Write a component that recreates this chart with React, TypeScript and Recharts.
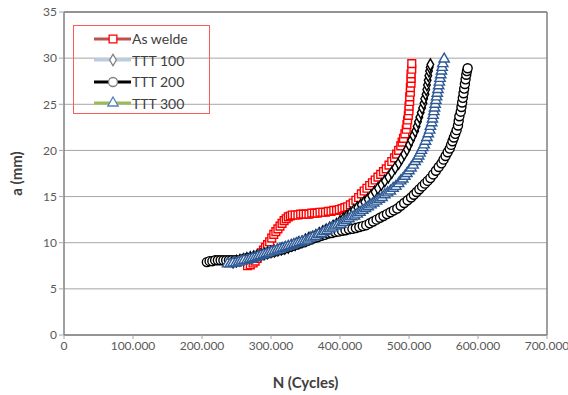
import React from 'react';
import {
  ScatterChart, Scatter, XAxis, YAxis, CartesianGrid, Legend, ReferenceLine, Symbols,
} from 'recharts';

// [N in thousands of cycles, a in mm]
const asWelde: [number, number][] = [
  [266, 7.5], [270, 7.6], [274, 7.8], [277, 8.0], [280, 8.3], [283, 8.6], [286, 8.9], [289, 9.2], [292, 9.5], [295, 9.8],
  [298, 10.1], [301, 10.5], [304, 10.9], [307, 11.2], [310, 11.5], [313, 11.8], [316, 12.1], [319, 12.4], [322, 12.6], [325, 12.8],
  [328, 12.9], [331, 13.0], [335, 13.0], [339, 13.0], [343, 13.1], [347, 13.1], [351, 13.1], [355, 13.1], [359, 13.2], [363, 13.2],
  [367, 13.2], [371, 13.3], [375, 13.3], [379, 13.3], [383, 13.4], [387, 13.4], [391, 13.5], [395, 13.5], [399, 13.6], [403, 13.7],
  [407, 13.8], [411, 13.9], [415, 14.1], [419, 14.3], [423, 14.6], [427, 14.9], [431, 15.3], [435, 15.6], [439, 15.9], [443, 16.2],
  [447, 16.5], [451, 16.8], [455, 17.1], [459, 17.4], [463, 17.7], [467, 18.0], [471, 18.4], [475, 18.8], [479, 19.2], [482, 19.6],
  [485, 20.0], [488, 20.5], [490, 20.9], [492, 21.3], [494, 21.8], [496, 22.3], [497, 22.8], [498, 23.3], [499, 23.8], [500, 24.3],
  [500, 24.8], [501, 25.3], [501, 25.8], [502, 26.3], [502, 26.8], [503, 27.3], [503, 27.8], [503, 28.3], [504, 28.8], [504, 29.4],
];

const ttt100: [number, number][] = [
  [245, 7.9], [250, 8.0], [255, 8.1], [260, 8.2], [265, 8.3], [270, 8.4], [275, 8.5], [280, 8.6], [285, 8.7], [290, 8.8],
  [295, 8.9], [300, 9.0], [305, 9.1], [310, 9.2], [315, 9.3], [320, 9.4], [325, 9.5], [330, 9.7], [335, 9.8], [340, 10.0],
  [345, 10.1], [350, 10.3], [355, 10.5], [360, 10.6], [365, 10.8], [370, 11.0], [375, 11.2], [380, 11.4], [385, 11.6], [390, 11.8],
  [395, 12.0], [400, 12.3], [405, 12.6], [410, 12.9], [415, 13.2], [420, 13.5], [425, 13.8], [430, 14.1], [435, 14.4], [440, 14.7],
  [445, 15.1], [450, 15.5], [455, 15.9], [460, 16.3], [465, 16.7], [470, 17.1], [475, 17.6], [480, 18.1], [485, 18.6], [489, 19.1],
  [493, 19.6], [497, 20.1], [500, 20.6], [503, 21.1], [506, 21.6], [509, 22.1], [511, 22.6], [513, 23.1], [515, 23.6], [517, 24.1],
  [519, 24.6], [521, 25.1], [522, 25.6], [524, 26.1], [525, 26.6], [526, 27.1], [527, 27.6], [528, 28.1], [529, 28.6], [530, 29.0],
  [531, 29.3],
];

const ttt200: [number, number][] = [
  [207, 7.9], [211, 8.0], [215, 8.0], [219, 8.1], [223, 8.1], [227, 8.1], [231, 8.1], [235, 8.1], [239, 8.1], [243, 8.1],
  [248, 8.1], [253, 8.1], [258, 8.2], [263, 8.3], [268, 8.35], [273, 8.4], [278, 8.5], [283, 8.6], [288, 8.7], [293, 8.8],
  [298, 8.9], [303, 9.0], [308, 9.1], [313, 9.2], [318, 9.3], [323, 9.45], [328, 9.55], [333, 9.7], [338, 9.8], [343, 9.95],
  [348, 10.05], [353, 10.2], [358, 10.35], [363, 10.5], [368, 10.6], [373, 10.75], [378, 10.85], [383, 11.0], [388, 11.05], [393, 11.15],
  [398, 11.2], [403, 11.3], [408, 11.35], [413, 11.45], [418, 11.5], [423, 11.6], [428, 11.7], [433, 11.8], [438, 11.9], [443, 12.1],
  [448, 12.3], [453, 12.5], [458, 12.7], [463, 12.9], [468, 13.1], [473, 13.3], [478, 13.5], [483, 13.7], [488, 14.0], [493, 14.3],
  [498, 14.6], [503, 14.9], [507, 15.2], [511, 15.5], [515, 15.8], [519, 16.1], [523, 16.4], [527, 16.7], [531, 17.0], [535, 17.4],
  [539, 17.8], [543, 18.2], [547, 18.6], [550, 19.0], [553, 19.4], [556, 19.8], [559, 20.2], [561, 20.6], [563, 21.0], [565, 21.4],
  [567, 21.8], [569, 22.2], [571, 22.7], [572, 23.2], [573, 23.7], [575, 24.2], [576, 24.7], [577, 25.2], [578, 25.7], [579, 26.2],
  [580, 26.7], [581, 27.2], [582, 27.7], [583, 28.2], [584, 28.6], [585, 28.9],
];

const ttt300: [number, number][] = [
  [237, 7.7], [241, 7.7], [245, 7.8], [249, 7.8], [253, 7.9], [257, 8.0], [261, 8.1], [265, 8.1], [269, 8.2], [273, 8.3],
  [277, 8.4], [281, 8.5], [285, 8.6], [289, 8.7], [293, 8.8], [297, 8.9], [301, 9.0], [305, 9.1], [309, 9.2], [313, 9.3],
  [317, 9.4], [321, 9.5], [325, 9.6], [329, 9.7], [333, 9.8], [337, 9.9], [341, 10.0], [345, 10.1], [349, 10.2], [353, 10.3],
  [357, 10.5], [361, 10.6], [365, 10.7], [369, 10.9], [373, 11.0], [377, 11.2], [381, 11.3], [385, 11.5], [389, 11.6], [393, 11.8],
  [397, 11.9], [401, 12.0], [405, 12.2], [409, 12.4], [413, 12.6], [417, 12.8], [421, 12.9], [425, 13.1], [429, 13.3], [433, 13.5],
  [437, 13.7], [441, 13.9], [445, 14.1], [449, 14.3], [453, 14.5], [457, 14.7], [461, 14.9], [465, 15.2], [469, 15.4], [473, 15.6],
  [477, 15.9], [481, 16.1], [485, 16.4], [488, 16.7], [491, 16.9], [494, 17.2], [497, 17.5], [500, 17.8], [503, 18.1], [506, 18.4],
  [509, 18.8], [512, 19.1], [514, 19.4], [516, 19.7], [518, 20.0], [520, 20.3], [522, 20.6], [524, 21.0], [526, 21.4], [528, 21.8],
  [530, 22.2], [531, 22.6], [533, 23.0], [534, 23.4], [535, 23.8], [536, 24.2], [537, 24.6], [538, 25.0], [539, 25.4], [540, 25.8],
  [541, 26.2], [542, 26.6], [543, 27.0], [544, 27.4], [545, 27.8], [546, 28.2], [547, 28.6], [548, 29.0], [549, 29.4], [551, 29.9],
];

const seriesNames = ['As welde', 'TTT 100', 'TTT 200', 'TTT 300'];
const xTicks = [0, 100000, 200000, 300000, 400000, 500000, 600000, 700000];
const xTickLabels = ['0', '100.000', '200.000', '300.000', '400.000', '500.000', '600.000', '700.000'];
const yTicks = [0, 5, 10, 15, 20, 25, 30, 35];

const toPoints = (pts: [number, number][]) => pts.map(([n, a]) => ({ n: n * 1000, a }));

const series = [
  { name: seriesNames[0], data: toPoints(asWelde), type: 'square', size: 60, stroke: '#FF0000', fill: '#FFFFFF', line: '#FF0000', legLine: '#C0504D', legStroke: '#FF0000', legFill: '#FFFFFF' },
  { name: seriesNames[1], data: toPoints(ttt100), type: 'diamond', size: 38, stroke: '#000000', fill: '#FFFFFF', line: '#000000', legLine: '#B9CDE5', legStroke: '#7F7F7F', legFill: '#FFFFFF' },
  { name: seriesNames[2], data: toPoints(ttt200), type: 'circle', size: 64, stroke: '#000000', fill: '#FFFFFF', line: '#000000', legLine: '#000000', legStroke: '#7F7F7F', legFill: '#FFFFFF' },
  { name: seriesNames[3], data: toPoints(ttt300), type: 'triangle', size: 46, stroke: '#2E5A96', fill: '#FFFFFF', line: '#2E5A96', legLine: '#9BBB59', legStroke: '#4F81BD', legFill: '#FFFFFF' },
];

const makeShape = (type: any, size: number, stroke: string, fill: string) => (props: any) => (
  <Symbols cx={props.cx} cy={props.cy} type={type} size={size} fill={fill} stroke={stroke} strokeWidth={1.4} />
);

const LegendBox = () => (
  <div style={{ width: 137, height: 89, border: '1px solid #FF5A5A', boxSizing: 'border-box', paddingTop: 2 }}>
    {series.map((s) => (
      <div key={s.name} style={{ display: 'flex', alignItems: 'center', height: 21.5 }}>
        <svg width={58} height={20} style={{ flex: 'none' }}>
          <line x1={20} y1={10} x2={57} y2={10} stroke={s.legLine} strokeWidth={3} />
          <Symbols cx={39} cy={10} type={s.type as any} size={s.size} fill={s.legFill} stroke={s.legStroke} strokeWidth={1.3} />
        </svg>
        <span style={{ fontFamily: 'Lato, "Open Sans", sans-serif', fontSize: 14, color: '#404040', whiteSpace: 'nowrap' }}>{s.name}</span>
      </div>
    ))}
  </div>
);

export default function App() {
  return (
    <div style={{ position: 'absolute', left: 0, top: 0, width: 568, height: 395, background: '#fff' }}>
      <ScatterChart width={568} height={395} margin={{ top: 12, right: 21, left: 0, bottom: 0 }}>
        <CartesianGrid horizontal vertical={false} stroke="#A6A6A6" strokeWidth={1} />
        <XAxis
          type="number"
          dataKey="n"
          domain={[0, 700000]}
          ticks={xTicks}
          tickFormatter={(v: number) => xTickLabels[xTicks.indexOf(v)] ?? String(v)}
          height={60}
          axisLine={{ stroke: '#7F7F7F', strokeWidth: 1.5 }}
          tickLine={{ stroke: '#A6A6A6' }}
          tickSize={4}
          tick={{ fill: '#595959', fontSize: 12, fontFamily: 'Lato, "Open Sans", sans-serif' }}
          interval={0}
          allowDataOverflow
          label={{ value: 'N (Cycles)', position: 'insideBottom', offset: 7, fill: '#404040', fontSize: 15, fontWeight: 'bold', fontFamily: 'Lato, "Open Sans", sans-serif' }}
        />
        <YAxis
          type="number"
          dataKey="a"
          domain={[0, 35]}
          ticks={yTicks}
          width={64}
          axisLine={{ stroke: '#7F7F7F', strokeWidth: 1.5 }}
          tickLine={{ stroke: '#A6A6A6' }}
          tickSize={5}
          tick={{ fill: '#595959', fontSize: 12, fontFamily: 'Lato, "Open Sans", sans-serif' }}
          interval={0}
          allowDataOverflow
          label={{ value: 'a (mm)', angle: -90, position: 'insideLeft', offset: 17, style: { textAnchor: 'middle' }, fill: '#404040', fontSize: 15, fontWeight: 'bold', fontFamily: 'Lato, "Open Sans", sans-serif' }}
        />
        <ReferenceLine x={700000} stroke="#7F7F7F" strokeWidth={1.5} />
        <ReferenceLine y={35} stroke="#7F7F7F" strokeWidth={1.5} />
        {series.map((s) => (
          <Scatter
            key={s.name}
            name={s.name}
            data={s.data}
            isAnimationActive={false}
            line={{ stroke: s.line, strokeWidth: 1.5 }}
            shape={makeShape(s.type, s.size, s.stroke, s.fill)}
          />
        ))}
        <Legend
          layout="horizontal"
          verticalAlign="middle"
          align="center"
          content={() => <LegendBox />}
          wrapperStyle={{ left: 73, top: 25, width: 137, height: 89 }}
        />
      </ScatterChart>
    </div>
  );
}
